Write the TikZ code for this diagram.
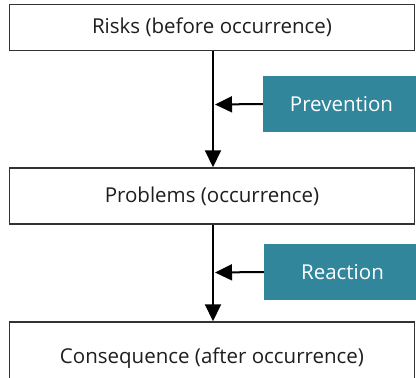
\documentclass[tikz,border=0pt]{standalone}
\usepackage{fontspec}
\setmainfont{Open Sans}
\usetikzlibrary{arrows.meta}
\definecolor{teal1}{RGB}{50,134,156}
\definecolor{txt}{RGB}{30,30,30}
\definecolor{boxline}{RGB}{50,50,50}
\tikzset{
  stagebox/.style={draw=boxline, line width=1.5pt, fill=white, minimum width=405pt, inner sep=0pt, font=\fontsize{20.5}{24}\selectfont, text=txt},
  actbox/.style={fill=teal1, minimum width=157pt, minimum height=56pt, inner sep=0pt, font=\fontsize{20.5}{24}\selectfont, text=white},
  flow/.style={line width=2pt, black, -{Triangle[length=17pt,width=16pt]}},
}
\begin{document}
\begin{tikzpicture}[x=1pt,y=-1pt]
\useasboundingbox (0,0) rectangle (416,378);
\clip (0,0) rectangle (416,378);
\node[stagebox, minimum height=46pt] (risks) at (212,27.5) {Risks (before occurrence)};
\node[stagebox, minimum height=56pt] (problems) at (212,196) {Problems (occurrence)};
\node[stagebox, minimum height=72pt] (conseq) at (212,358) {Consequence (after occurrence)};
\node[actbox] (prev) at (341.5,104) {Prevention};
\node[actbox] (react) at (342.5,272) {Reaction};
\draw[flow] ([xshift=1pt]risks.south) -- ([xshift=1pt]problems.north);
\draw[flow] ([xshift=1pt]problems.south) -- ([xshift=1pt]conseq.north);
\coordinate (pin1) at (215,104.5);
\coordinate (pin2) at (215,272.5);
\draw[flow] (prev.west) -- (pin1);
\draw[flow] (react.west) -- (pin2);
\end{tikzpicture}
\end{document}
